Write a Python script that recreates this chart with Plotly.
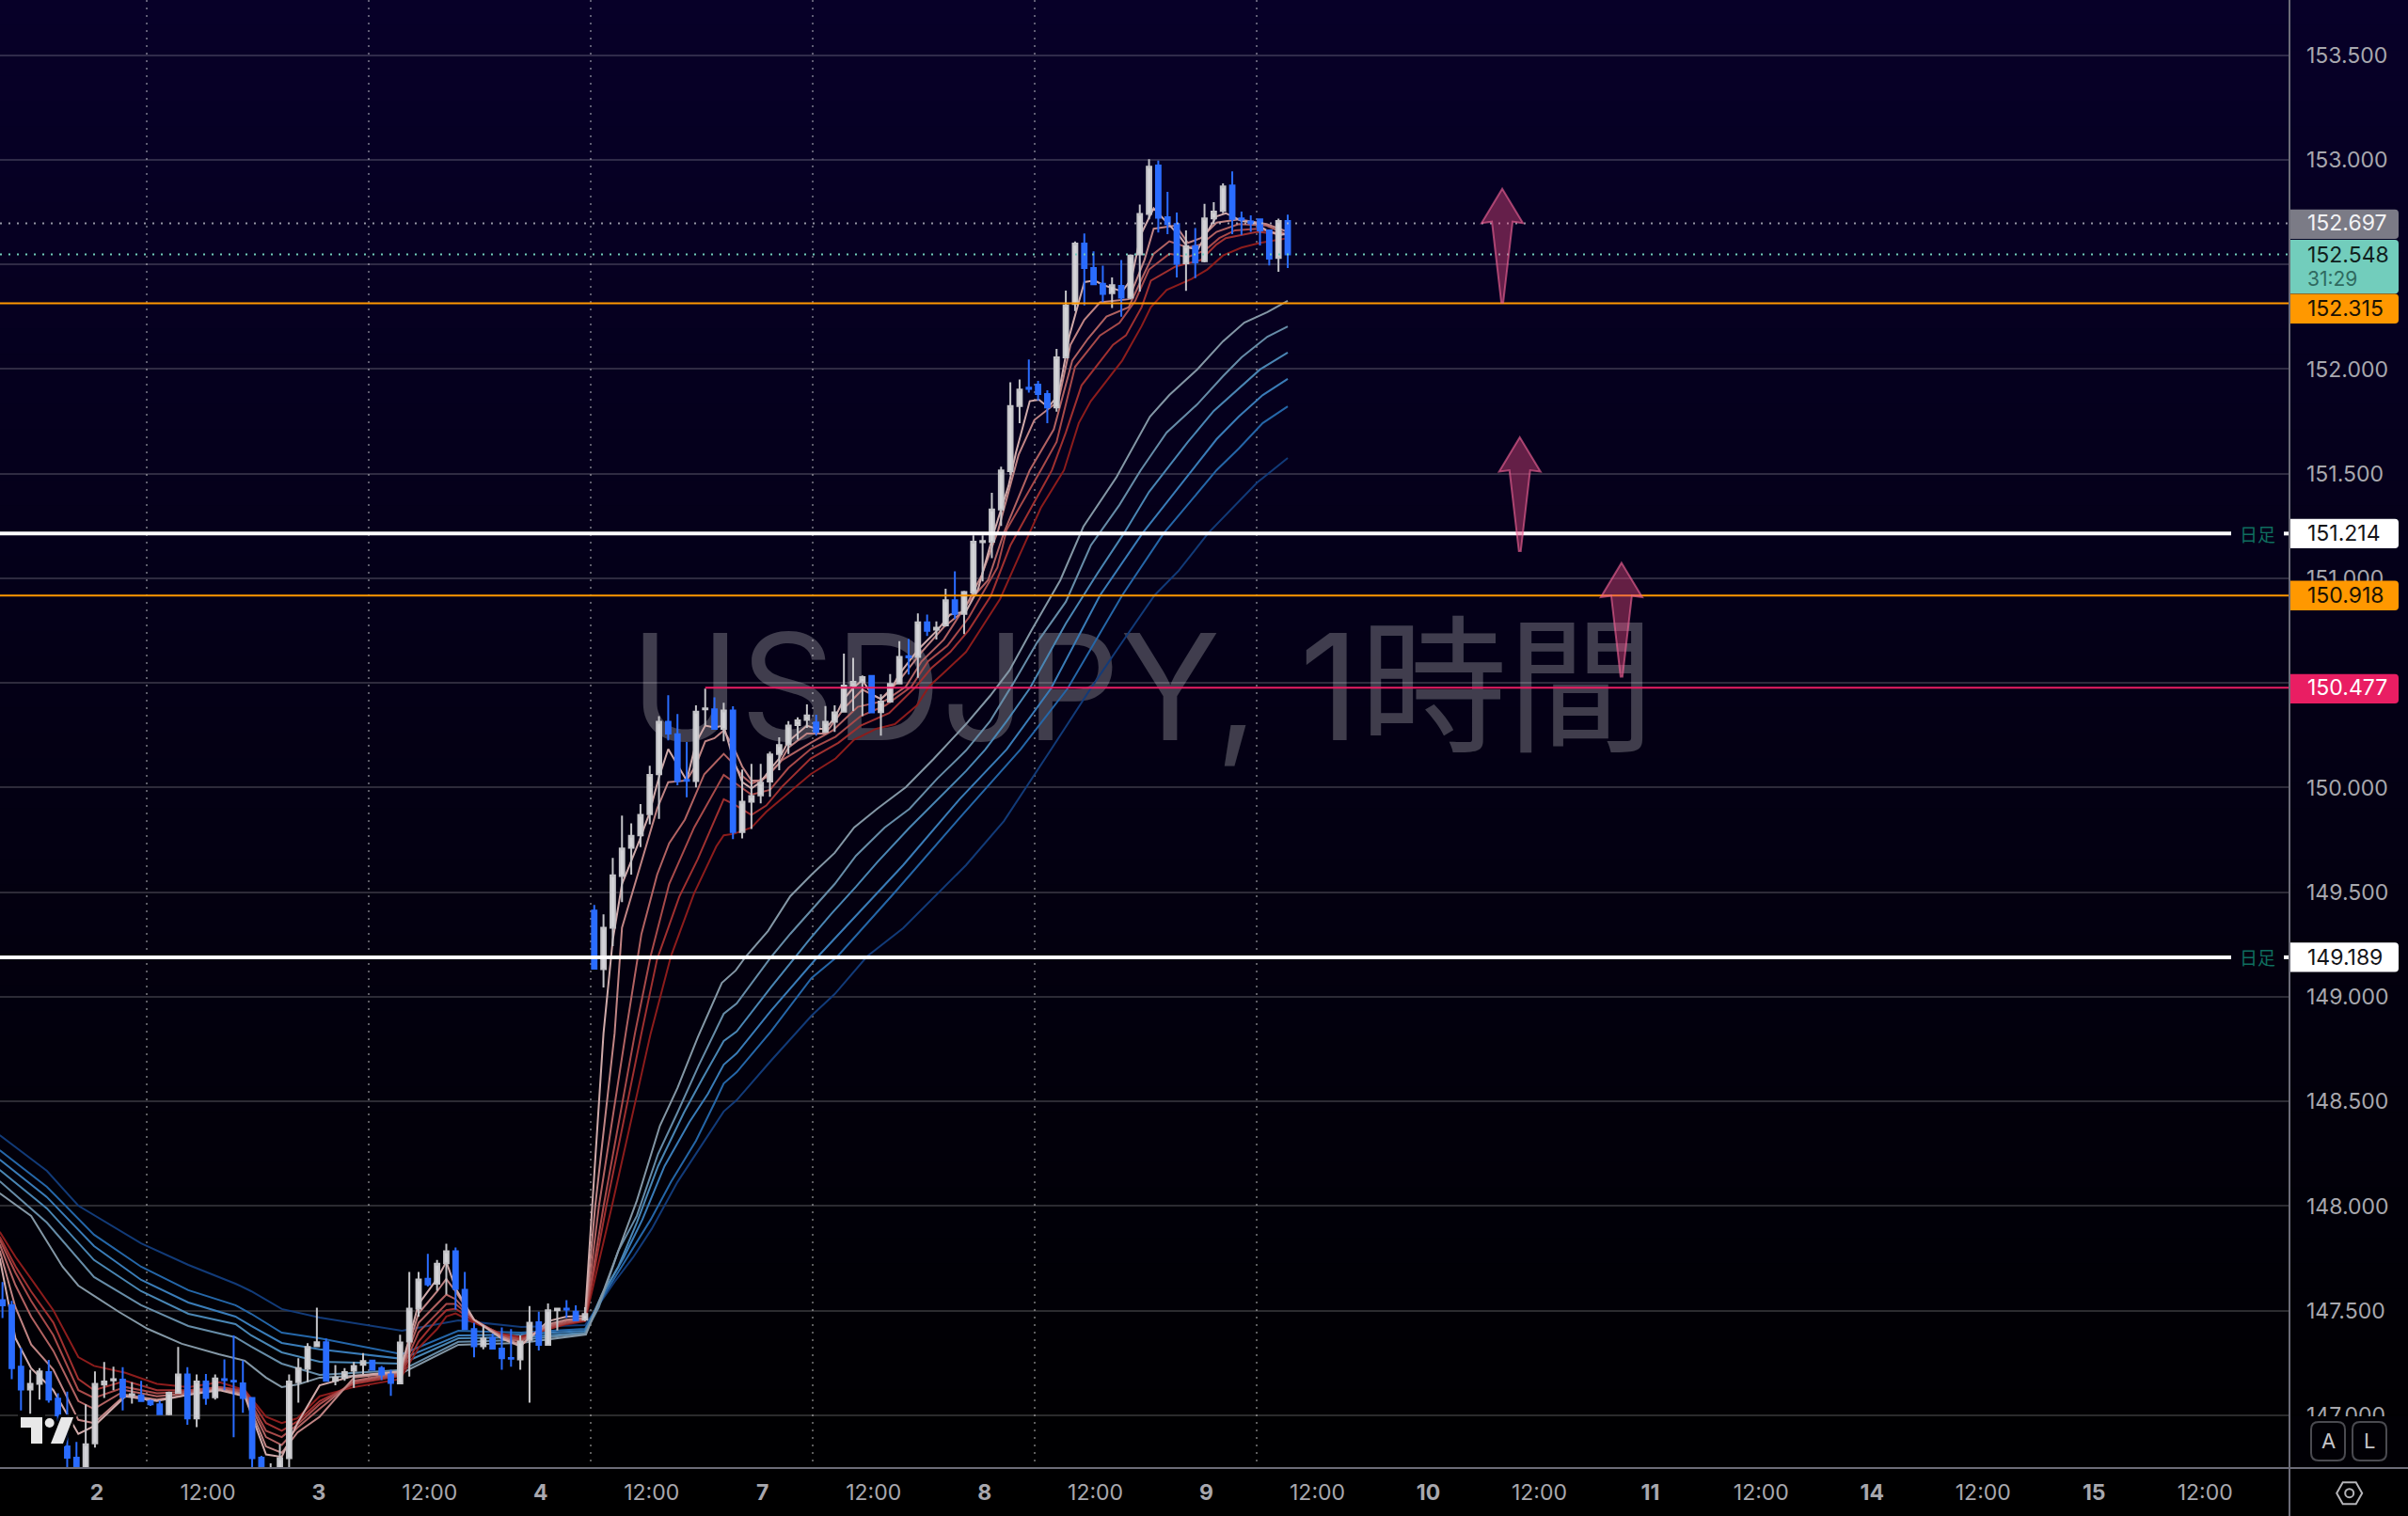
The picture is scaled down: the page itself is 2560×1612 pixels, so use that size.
import plotly.graph_objects as go

# ---------- data ----------
BAR_X = list(range(-10, 130))
OPEN = [147.550,147.525,147.232,147.123,147.150,147.206,147.080,146.851,146.798,146.700,
146.866,147.147,147.167,147.170,147.095,147.095,147.068,147.053,147.005,147.108,
147.195,146.985,147.161,147.086,147.173,147.165,147.153,147.083,146.798,146.660,
146.720,146.795,147.158,147.222,147.330,147.349,147.165,147.180,147.213,147.241,
147.262,147.225,147.195,147.153,147.352,147.510,147.652,147.629,147.727,147.784,
147.600,147.412,147.330,147.370,147.319,147.274,147.267,147.360,147.445,147.337,
147.502,147.510,147.495,147.457,
149.412,149.132,149.330,149.577,149.712,149.772,149.873,150.064,150.314,150.255,
150.037,150.031,150.374,150.374,150.281,150.368,149.787,149.932,149.963,150.029,
150.161,150.206,150.299,150.323,150.311,150.266,150.314,150.363,150.488,150.506,
150.533,150.360,150.411,150.498,150.628,150.624,150.790,150.755,150.775,150.895,
150.830,150.932,151.173,151.175,151.329,151.512,151.824,151.911,151.926,151.881,
151.817,152.056,152.311,152.600,152.483,152.408,152.363,152.398,152.341,152.548,
152.742,152.973,152.726,152.693,152.506,152.588,152.516,152.720,152.756,152.877,
152.720,152.705,152.716,152.663,152.531,152.708]
CLOSE = [147.525,147.225,147.123,147.150,147.210,147.075,147.000,146.798,146.700,146.861,
147.150,147.162,147.173,147.087,147.101,147.068,147.053,147.005,147.108,147.195,
146.985,147.161,147.083,147.176,147.168,147.161,147.083,146.795,146.700,146.720,
146.795,147.161,147.225,147.327,147.349,147.165,147.180,147.207,147.236,147.259,
147.218,147.195,147.155,147.348,147.510,147.649,147.626,147.724,147.784,147.604,
147.412,147.330,147.367,147.319,147.273,147.270,147.352,147.442,147.337,147.502,
147.510,147.505,147.454,147.484,
149.135,149.330,149.581,149.709,149.769,149.869,150.061,150.314,150.258,150.031,
150.032,150.363,150.378,150.281,150.368,149.787,149.932,149.959,150.023,150.158,
150.203,150.296,150.321,150.345,150.266,150.314,150.359,150.488,150.506,150.528,
150.359,150.411,150.495,150.624,150.622,150.790,150.749,150.764,150.895,150.830,
150.935,151.175,151.178,151.329,151.516,151.824,151.902,151.905,151.881,151.817,
152.056,152.304,152.600,152.483,152.405,152.360,152.401,152.341,152.543,152.742,
152.967,152.723,152.693,152.503,152.588,152.510,152.720,152.753,152.873,152.718,
152.714,152.697,152.663,152.528,152.708,152.548]
HIGH = [147.637,147.547,147.322,147.218,147.225,147.265,147.105,147.113,146.873,147.053,
147.210,147.255,147.232,147.230,147.158,147.165,147.075,147.071,147.113,147.327,
147.230,147.195,147.198,147.195,147.267,147.382,147.262,147.086,146.806,146.771,
146.861,147.195,147.273,147.345,147.514,147.367,147.240,147.225,147.255,147.297,
147.265,147.236,147.218,147.385,147.685,147.685,147.772,147.742,147.820,147.802,
147.685,147.442,147.430,147.390,147.420,147.412,147.382,147.522,147.495,147.535,
147.514,147.550,147.525,147.517,
149.439,149.394,149.664,149.866,149.829,149.921,150.104,150.341,150.441,150.351,
150.218,150.393,150.473,150.431,150.405,150.389,150.086,150.113,150.113,150.172,
150.240,150.318,150.336,150.398,150.348,150.390,150.393,150.640,150.620,150.536,
150.536,150.446,150.543,150.700,150.710,150.832,150.827,150.794,150.950,151.034,
150.940,151.205,151.205,151.409,151.534,151.937,151.951,152.046,151.944,151.899,
152.097,152.375,152.610,152.648,152.563,152.494,152.438,152.521,152.548,152.786,
153.003,152.997,152.847,152.748,152.663,152.674,152.790,152.798,152.888,152.945,
152.753,152.735,152.719,152.667,152.719,152.738]
LOW = [147.465,147.173,147.023,147.008,147.075,147.060,146.970,146.753,146.650,146.650,
146.846,147.083,147.120,147.023,147.056,147.065,147.045,147.002,147.000,147.105,
146.955,146.943,147.050,147.075,147.120,146.895,147.012,146.745,146.660,146.640,
146.680,146.745,147.060,147.158,147.327,147.161,147.143,147.165,147.131,147.195,
147.215,147.168,147.093,147.150,147.185,147.472,147.615,147.595,147.577,147.505,
147.409,147.277,147.315,147.315,147.218,147.232,147.218,147.060,147.310,147.333,
147.405,147.465,147.454,147.450,
149.132,149.045,149.243,149.453,149.584,149.716,149.824,149.850,150.226,150.011,
149.954,150.001,150.296,150.276,150.221,149.754,149.757,149.802,149.924,149.956,
150.083,150.161,150.229,150.285,150.248,150.266,150.266,150.363,150.366,150.341,
150.356,150.248,150.405,150.495,150.540,150.525,150.725,150.708,150.770,150.805,
150.733,150.914,150.985,151.097,151.250,151.494,151.742,151.887,151.851,151.742,
151.797,152.053,152.277,152.304,152.401,152.319,152.292,152.251,152.333,152.371,
152.716,152.653,152.645,152.438,152.374,152.435,152.510,152.693,152.745,152.645,
152.641,152.656,152.591,152.495,152.465,152.483]

# long moving averages (lightest to darkest)
L1_X = [-10.3,-6.9,-3.5,-1.8,-0.1,2.6,5.7,9.4,13.4,16.2,18.5,20.2,22,24.3,33.2,39.3,46.1,53.1,55.1,56.9,58.6,61.1,63,65.2,67.8,69.3,70.4,72.8,75.2,77.5,80,82.1,84.6,87.7,90.7,94.2,96.8,98.9,101.3,104.4,106.9,110.5,114.1,116.2,119.2,122,124.3,126.8,129]
L1_Y = [148.061,147.953,147.710,147.620,147.571,147.494,147.413,147.342,147.292,147.261,147.180,147.135,147.148,147.180,147.202,147.337,147.346,147.386,147.607,147.818,148.025,148.384,148.564,148.807,149.067,149.126,149.193,149.315,149.481,149.584,149.688,149.809,149.899,150.002,150.137,150.303,150.438,150.560,150.753,150.991,151.247,151.485,151.773,151.876,151.998,152.133,152.222,152.272,152.326]
L2_X = [-10.3,-5.2,-0.1,5,10.1,15.2,16.9,20.2,24.3,33.2,39.3,46.1,53,54.5,56.6,58.6,60.9,63,65.3,68,69.4,73.1,75.2,77.9,80,82.3,85.4,88.1,91.1,94.2,96.8,99.3,101.9,105,107.7,110.8,113.1,115.9,119.2,122,124,126.8,129]
L2_Y = [148.119,147.921,147.661,147.526,147.427,147.373,147.328,147.247,147.193,147.216,147.351,147.360,147.391,147.517,147.786,147.953,148.249,148.447,148.672,148.919,148.968,149.189,149.301,149.436,149.539,149.674,149.809,149.899,150.043,150.177,150.317,150.497,150.694,150.888,151.157,151.351,151.517,151.697,151.831,151.966,152.056,152.155,152.204]
L3_X = [-10.3,-5.2,-0.1,5,10.1,15.2,16.9,20.2,24.3,33.2,39.3,46.1,53,54.8,56.6,58.6,60.9,63.7,65.7,68,69.4,73.1,77.2,79.6,82.3,84.6,88.1,91.1,94.2,96.3,98.6,101.1,105,108.4,111.3,114,118.2,121,123.7,126,129]
L3_Y = [148.173,147.989,147.742,147.593,147.485,147.436,147.382,147.301,147.256,147.247,147.368,147.373,147.395,147.575,147.710,147.921,148.191,148.447,148.609,148.789,148.834,149.045,149.270,149.395,149.526,149.643,149.809,149.944,150.079,150.182,150.317,150.474,150.784,151.022,151.216,151.413,151.652,151.800,151.908,151.998,152.079]
L4_X = [-10.3,-5.2,-0.1,5,10.1,15.2,16.9,20.2,24.3,33.2,39.3,46.1,53,55.1,57.2,59.2,61.6,64.3,66.3,68,69.4,73.1,78.2,82.8,87.4,93.5,98.6,103.4,108.7,113.3,118.6,121.3,123.7,126.3,129]
L4_Y = [148.222,148.043,147.809,147.647,147.539,147.472,147.427,147.346,147.315,147.270,147.382,147.386,147.404,147.593,147.755,147.935,148.191,148.402,148.537,148.676,148.730,148.933,149.193,149.413,149.629,149.944,150.182,150.474,150.919,151.216,151.517,151.665,151.773,151.876,151.953]
L5_X = [-10.3,-5.2,-0.1,5,10.1,15.2,16.9,20.2,24.3,33.2,39.3,46.1,53,55.5,57.2,60.1,62.3,65,67,68,69.4,73.1,77.5,80.3,86.4,93.5,100.1,105.2,111.1,115.6,121.3,123.7,126.3,129]
L5_Y = [148.267,148.092,147.863,147.710,147.598,147.526,147.485,147.395,147.368,147.292,147.404,147.395,147.413,147.607,147.728,147.935,148.115,148.312,148.492,148.586,148.640,148.834,149.090,149.193,149.494,149.854,150.182,150.474,150.919,151.216,151.517,151.620,151.742,151.822]
L6_X = [-10.3,-5.2,-1.8,-0.1,5,10.1,15.2,16.9,20.2,24.3,33.2,39.3,46.1,53,56.2,58.2,60.2,63,65,68,69.4,73.1,77.5,80,83.5,87.4,94.2,98.3,103.4,107.7,111.5,114.6,117.2,120.4,125.7,129]
L6_Y = [148.339,148.168,148.002,147.957,147.822,147.719,147.629,147.593,147.508,147.467,147.404,147.454,147.422,147.431,147.638,147.755,147.890,148.115,148.249,148.452,148.506,148.694,148.910,149.013,149.193,149.328,149.629,149.840,150.182,150.474,150.721,150.919,151.036,151.216,151.458,151.575]

# short moving averages (lightest to darkest)
S1_X = [-10.3,-8.6,-6.9,-4.5,-1.8,-0.1,3.3,6.7,10.1,13.5,16.2,18.5,20.2,21.9,24.3,28,33,35,37,38,39,41,44,46,49,51,53,54,55,56,57,58.9,59.9,61,62,63,64,65,66,67,68,69,70,71,72,73,74,75,76,77,78,79,80,81,82,83,84,85,86,87,89.1,91.1,92.5,94.2,95.5,97.2,98.8,99.6,101.1,102.1,103.1,104.2,105.4,107,108.1,109.1,110.1,111.1,112.1,113.1,114.5,116,117.2,118.2,119.3,120.3,121.3,122.3,124,125.4,126.7,128.1,129]
S1_Y = [147.750,147.368,147.225,147.120,146.911,146.948,147.091,147.068,147.098,147.120,147.091,146.813,146.801,146.963,147.143,147.188,147.210,147.532,147.652,147.734,147.607,147.457,147.367,147.330,147.450,147.472,147.475,148.150,148.825,149.270,149.539,149.749,149.869,150.049,150.184,150.109,150.034,150.214,150.296,150.288,150.296,150.139,150.026,149.996,150.026,150.086,150.139,150.221,150.258,150.296,150.281,150.281,150.333,150.423,150.476,150.513,150.446,150.423,150.461,150.543,150.663,150.752,150.827,150.842,150.947,151.217,151.442,151.600,151.847,151.854,151.817,151.877,152.161,152.416,152.423,152.401,152.386,152.371,152.431,152.641,152.768,152.698,152.641,152.581,152.573,152.656,152.730,152.745,152.708,152.700,152.663,152.641,152.648]
S2_X = [-10.3,-8.6,-6.9,-4.5,-1.8,-0.1,3.3,6.7,10.1,13.5,16.2,18.5,20.2,21.9,24.3,28,33,35,37,38,39,41,44,46,49,51,53,54.1,56.2,57,58.7,60.8,62,64,65,66,67,68,69,70,71,72,73,74,75,77,79,81,83,85,87,89.4,91.8,93.9,95.9,97.7,99.9,101.6,104.2,105.5,107,108.7,111.8,113.5,114.5,116.9,118.2,119.6,121.3,123.7,126.7,129]
S2_Y = [147.787,147.517,147.338,147.218,146.978,146.963,147.098,147.075,147.098,147.125,147.098,146.851,146.821,146.918,146.993,147.180,147.206,147.487,147.592,147.652,147.592,147.457,147.375,147.337,147.435,147.457,147.465,147.998,148.825,149.330,149.584,149.899,150.026,150.034,150.109,150.221,150.236,150.273,150.199,150.101,150.034,150.034,150.071,150.116,150.191,150.258,150.258,150.378,150.468,150.423,150.513,150.648,150.767,150.842,151.015,151.232,151.592,151.757,151.847,152.116,152.236,152.319,152.334,152.521,152.671,152.686,152.603,152.626,152.700,152.716,152.693,152.656]
S3_X = [-10.3,-8.6,-6.9,-4.5,-1.8,-0.1,3.3,6.7,10.1,13.5,16.2,18.5,20.2,21.9,24.3,28,33,35,37,38,39,41,44,46,49,51,53,54.5,57.4,59.1,60.8,62.1,63.8,65.9,68,69,70,71,72.6,74.3,77.4,79.8,82.5,85.5,87.7,89.4,91.8,94.2,96.6,98.3,101.1,103.7,105.7,107.4,109.4,111.8,113.2,114.5,116.2,118.2,119.6,121.3,123.7,126.7,129]
S3_Y = [147.817,147.622,147.472,147.308,147.068,147.031,147.120,147.091,147.105,147.128,147.105,146.896,146.858,146.941,147.031,147.165,147.203,147.442,147.532,147.577,147.555,147.457,147.375,147.352,147.427,147.450,147.460,147.998,148.825,149.300,149.584,149.734,149.847,150.064,150.161,150.116,150.056,150.019,150.049,150.131,150.214,150.273,150.386,150.416,150.483,150.603,150.707,150.872,150.992,151.217,151.517,151.712,152.041,152.146,152.251,152.296,152.431,152.551,152.611,152.581,152.596,152.656,152.693,152.686,152.641]
S4_X = [-10.3,-8.6,-6.9,-4.5,-1.8,-0.1,3.3,6.7,10.1,13.5,16.2,18.5,20.2,21.9,24.3,28,33,35,37,38,39,41,44,46,49,51,53,55,58.4,60.1,62.1,64.8,68,69.1,71,73,75,77.4,80.1,82.8,85.5,88.3,90.1,92.2,94.5,97.6,98.6,102.3,104,106,108.7,110.8,112.5,114,116.2,118.2,120,121.6,123.3,125.7,129]
S4_Y = [147.839,147.682,147.547,147.383,147.120,147.083,147.135,147.105,147.113,147.135,147.113,146.926,146.896,146.956,147.053,147.158,147.195,147.397,147.487,147.532,147.532,147.457,147.382,147.360,147.420,147.442,147.457,147.998,148.825,149.195,149.539,149.809,150.061,150.026,149.966,149.989,150.094,150.184,150.243,150.341,150.393,150.483,150.603,150.678,150.812,151.052,151.232,151.517,151.652,152.011,152.161,152.221,152.326,152.476,152.551,152.536,152.566,152.626,152.663,152.671,152.641]
S5_X = [-10.3,-8.6,-6.9,-4.5,-1.8,-0.1,3.3,6.7,10.1,13.5,16.2,18.5,20.2,21.9,24.3,28,33,35,37,38,39,41,44,46,49,51,53,55.3,59.1,60.8,63.2,65.2,68,69.1,71,72.6,74.3,77.4,80.4,82.8,85.9,88.8,90.5,92.5,94.5,96.9,99,103.5,105,106.7,110.1,111.5,113.2,114.2,116.9,118.2,119.6,121.3,122.3,125.7,129]
S5_Y = [147.854,147.712,147.592,147.443,147.173,147.120,147.165,147.120,147.120,147.135,147.120,146.963,146.926,146.971,147.068,147.150,147.188,147.352,147.457,147.502,147.510,147.450,147.385,147.367,147.412,147.439,147.454,147.998,148.825,149.180,149.479,149.659,149.944,149.921,149.869,149.914,150.004,150.139,150.214,150.296,150.356,150.483,150.573,150.648,150.752,150.917,151.157,151.517,151.697,151.922,152.116,152.161,152.296,152.423,152.491,152.506,152.521,152.596,152.626,152.656,152.641]
S6_X = [-10.3,-8.6,-6.9,-4.5,-1.8,-0.1,3.3,6.7,10.1,13.5,16.2,18.5,20.2,21.9,24.3,28,33,35,37,38,39,41,44,46,49,51,53,55.9,60.1,62.3,64.8,67.2,68,69.1,71,72.6,75,77.4,80.1,82.1,84.5,86.5,88.9,90.2,92.2,94.2,95.5,97.9,100,102.3,104.8,106.4,107.7,111.1,113.2,114.2,115.9,118.6,120.3,122,124,126,129]
S6_Y = [147.877,147.757,147.652,147.502,147.278,147.236,147.203,147.150,147.135,147.158,147.120,146.993,146.963,146.986,147.091,147.135,147.173,147.322,147.412,147.472,147.487,147.442,147.390,147.375,147.412,147.435,147.450,147.998,148.825,149.195,149.495,149.719,149.772,149.779,149.809,149.884,149.974,150.064,150.139,150.229,150.281,150.303,150.393,150.483,150.565,150.648,150.737,150.902,151.112,151.337,151.517,151.742,151.847,152.041,152.206,152.296,152.378,152.431,152.476,152.543,152.581,152.603,152.626]

PRICE_TICKS = [147.0,147.5,148.0,148.5,149.0,149.5,150.0,150.5,151.0,151.5,152.0,152.5,153.0,153.5]
TIME_TICKS = [0,12,24,36,48,60,72,84,96,108,120,132,144,156,168,180,192,204,216,228]
TIME_LABELS = ["<b>2</b>","12:00","<b>3</b>","12:00","<b>4</b>","12:00","<b>7</b>","12:00","<b>8</b>","12:00",
               "<b>9</b>","12:00","<b>10</b>","12:00","<b>11</b>","12:00","<b>14</b>","12:00","<b>15</b>","12:00"]
SESSION_LINES = [5.6,29.6,53.6,77.6,101.6,125.6]
WHITE_LEVELS = [151.214,149.189]
ORANGE_LEVELS = [152.315,150.918]
PINK_LEVEL = 150.477
PINK_START = 66
PREV_CLOSE = 152.697
LAST_PRICE = 152.548
COUNTDOWN = "31:29"
ARROW_X = [152.2,154.1,165.1]
ARROW_TIP = [152.862,151.674,151.074]
WATERMARK = "USDJPY, 1時間"
WATERMARK_X = 113.3
WATERMARK_Y = 150.405
Y_RANGE = [146.748,153.764]
X_RANGE = [-10.27,237.34]

# ---------- layout helpers ----------
W, H = 2560, 1612
PW, PH = 2434, 1561
FONT = "Inter, 'Noto Sans CJK JP', sans-serif"
def px(x): return x / PW
def py(y): return 1 - y / PH

shapes = []
annotations = []

# background gradient
N = 60
for i in range(N):
    t = (i + 0.5) / N
    c = "rgb(%d,%d,%d)" % (round(7*(1-t)), 0, round(40*(1-t)))
    shapes.append(dict(type="rect", layer="below", xref="paper", yref="paper",
                       x0=0, x1=px(W), y0=py(H*i/N), y1=py(H*(i+1)/N + 1),
                       fillcolor=c, line_width=0))

def level_line(price, color, width, dash=None, x0=0.0, x1=1.0):
    shapes.append(dict(type="line", xref="paper", yref="y", x0=x0, x1=x1, y0=price, y1=price,
                       line=dict(color=color, width=width, dash=dash)))

def price_box(price, color, top, bottom, text, tcolor, yshift=0):
    r = 4
    w = 116
    path = (f"M 1,{top} L {w-r},{top} Q {w},{top} {w},{top-r} L {w},{bottom+r} "
            f"Q {w},{bottom} {w-r},{bottom} L 1,{bottom} Z")
    shapes.append(dict(type="path", xref="paper", yref="y", xsizemode="pixel", ysizemode="pixel",
                       xanchor=1, yanchor=price, path=path, fillcolor=color, line_width=0))
    annotations.append(dict(x=1, y=price, xref="paper", yref="y", text=text, showarrow=False,
                            xanchor="left", yanchor="middle", xshift=17, yshift=yshift,
                            font=dict(family=FONT, size=23, color=tcolor)))

level_line(PREV_CLOSE, "rgba(200,200,210,0.75)", 2, "2px,7px")
level_line(LAST_PRICE, "#72cdbc", 2, "2px,7px")
for p in ORANGE_LEVELS:
    level_line(p, "#ff9800", 2)
shapes.append(dict(type="line", xref="x", yref="y", x0=PINK_START, x1=X_RANGE[1], y0=PINK_LEVEL, y1=PINK_LEVEL,
                   line=dict(color="#e91e63", width=2)))
for p in WHITE_LEVELS:
    level_line(p, "#ffffff", 4, x1=px(2372))
    level_line(p, "#ffffff", 4, x0=px(2428))
    annotations.append(dict(x=px(2400), y=p, xref="paper", yref="y", text="日足", showarrow=False,
                            xanchor="center", yanchor="middle",
                            font=dict(family="'Noto Sans CJK JP'", size=19, color="#0f6e5f")))

ARROW_PATH = "M 0,0 L 22,-36.5 L 11,-35 L 1,-121 L -1,-121 L -11,-35 L -22,-36.5 Z"
for ax, ay in zip(ARROW_X, ARROW_TIP):
    shapes.append(dict(type="path", xref="x", yref="y", xsizemode="pixel", ysizemode="pixel",
                       xanchor=ax, yanchor=ay, path=ARROW_PATH,
                       fillcolor="rgba(233,75,130,0.42)",
                       line=dict(color="rgba(240,100,150,0.62)", width=2)))

# cover for the clipped lowest tick label
shapes.append(dict(type="rect", xref="paper", yref="paper", x0=px(2436), x1=px(W), y0=py(PH), y1=py(1506),
                   fillcolor="rgb(1,0,5)", line_width=0))

# axis frame
AXC = "#6c6c78"
shapes.append(dict(type="line", xref="paper", yref="paper", x0=1, x1=1, y0=py(0), y1=py(H), line=dict(color=AXC, width=2)))
shapes.append(dict(type="line", xref="paper", yref="paper", x0=0, x1=px(W), y0=py(PH), y1=py(PH), line=dict(color=AXC, width=2)))

# price tags
price_box(PREV_CLOSE, "#7b7b86", 14.7, -16.6, f"{PREV_CLOSE:.3f}", "#f2f2f4")
price_box(LAST_PRICE, "#72cdbc", 15.6, -41.7, f"{LAST_PRICE:.3f}", "#10201d")
annotations.append(dict(x=1, y=LAST_PRICE, xref="paper", yref="y", text=COUNTDOWN, showarrow=False,
                        xanchor="left", yanchor="middle", xshift=17, yshift=-26,
                        font=dict(family=FONT, size=21, color="#2f6a60")))
price_box(ORANGE_LEVELS[0], "#ff9800", 10, -21.6, f"{ORANGE_LEVELS[0]:.3f}", "#1a1204", yshift=-6)
price_box(WHITE_LEVELS[0], "#ffffff", 15.7, -15.6, f"{WHITE_LEVELS[0]:.3f}", "#141418")
price_box(ORANGE_LEVELS[1], "#ff9800", 15.8, -15.8, f"{ORANGE_LEVELS[1]:.3f}", "#1a1204")
price_box(PINK_LEVEL, "#e91e63", 14.7, -16.6, f"{PINK_LEVEL:.3f}", "#ffffff")
price_box(WHITE_LEVELS[1], "#ffffff", 15.7, -15.6, f"{WHITE_LEVELS[1]:.3f}", "#141418")

# TradingView logo
LOGO = [
    [(22,1507),(45,1507),(45,1535),(33,1535),(33,1518),(22,1518)],
    [(65,1507),(78,1507),(67,1535),(54,1535)],
]
def logo_path(poly):
    return "M " + " L ".join(f"{px(x)},{py(y)}" for x, y in poly) + " Z"
for poly in LOGO:
    shapes.append(dict(type="path", xref="paper", yref="paper", path=logo_path(poly),
                       fillcolor="rgba(0,0,0,0.85)", line=dict(color="rgba(0,0,0,0.85)", width=6)))
for poly in LOGO:
    shapes.append(dict(type="path", xref="paper", yref="paper", path=logo_path(poly),
                       fillcolor="#e8e8e8", line_width=0))
shapes.append(dict(type="circle", xref="paper", yref="paper", x0=px(47.7), x1=px(57.7), y0=py(1518), y1=py(1508),
                   fillcolor="#e8e8e8", line_width=0))

# A / L buttons
def rrect(x0, y0, x1, y1, r):
    pts = (f"M {px(x0+r)},{py(y0)} L {px(x1-r)},{py(y0)} Q {px(x1)},{py(y0)} {px(x1)},{py(y0+r)} "
           f"L {px(x1)},{py(y1-r)} Q {px(x1)},{py(y1)} {px(x1-r)},{py(y1)} L {px(x0+r)},{py(y1)} "
           f"Q {px(x0)},{py(y1)} {px(x0)},{py(y1-r)} L {px(x0)},{py(y0+r)} Q {px(x0)},{py(y0)} {px(x0+r)},{py(y0)} Z")
    return pts
for (x0, x1, ch) in [(2457,2493,"A"),(2501,2537,"L")]:
    shapes.append(dict(type="path", xref="paper", yref="paper", path=rrect(x0,1512,x1,1553,8),
                       fillcolor="rgba(0,0,0,0)", line=dict(color="#4a4a50", width=2)))
    annotations.append(dict(x=px((x0+x1)/2), y=py(1532), xref="paper", yref="paper", text=ch, showarrow=False,
                            xanchor="center", yanchor="middle",
                            font=dict(family=FONT, size=22, color="#c4c4c8")))

# settings hexagon
cx, cy = 2497.7, 1587.7
hex_pts = [(cx-13.5,cy),(cx-7,cy-11.5),(cx+7,cy-11.5),(cx+13.5,cy),(cx+7,cy+11.5),(cx-7,cy+11.5)]
shapes.append(dict(type="path", xref="paper", yref="paper",
                   path="M " + " L ".join(f"{px(x)},{py(y)}" for x, y in hex_pts) + " Z",
                   fillcolor="rgba(0,0,0,0)", line=dict(color="#b4b4b8", width=2)))
shapes.append(dict(type="circle", xref="paper", yref="paper", x0=px(cx-4.5), x1=px(cx+4.5), y0=py(cy+4.5), y1=py(cy-4.5),
                   fillcolor="rgba(0,0,0,0)", line=dict(color="#b4b4b8", width=2)))

# ---------- traces ----------
fig = go.Figure()
fig.add_trace(go.Scatter(x=[WATERMARK_X], y=[WATERMARK_Y], mode="text", text=[WATERMARK],
                         textposition="middle center", hoverinfo="skip", showlegend=False,
                         textfont=dict(family=FONT, size=157, color="rgba(255,255,255,0.24)")))
LONGS = [(L6_X,L6_Y,"#123a78"),(L5_X,L5_Y,"#2566a8"),(L4_X,L4_Y,"#3a7cb8"),
         (L3_X,L3_Y,"#4a86b4"),(L2_X,L2_Y,"#668ca8"),(L1_X,L1_Y,"#8497a6")]
SHORTS = [(S6_X,S6_Y,"#8c1c1c"),(S5_X,S5_Y,"#a03030"),(S4_X,S4_Y,"#a84a4a"),
          (S3_X,S3_Y,"#b26262"),(S2_X,S2_Y,"#c08484"),(S1_X,S1_Y,"#d0aaaa")]
for xs, ys, c in LONGS + SHORTS:
    fig.add_trace(go.Scatter(x=xs, y=ys, mode="lines", line=dict(color=c, width=2),
                             hoverinfo="skip", showlegend=False))
fig.add_trace(go.Candlestick(x=BAR_X, open=OPEN, high=HIGH, low=LOW, close=CLOSE,
                             xaxis="x2", yaxis="y2", showlegend=False, hoverinfo="skip", whiskerwidth=0,
                             increasing=dict(fillcolor="#d4d4d8", line=dict(color="#c4c4c8", width=2)),
                             decreasing=dict(fillcolor="#2a6cff", line=dict(color="#2a6cff", width=2))))

fig.update_layout(
    width=W, height=H, margin=dict(l=0, r=W-PW, t=0, b=H-PH, pad=0),
    paper_bgcolor="#000000", plot_bgcolor="rgba(0,0,0,0)",
    showlegend=False, boxgap=0.3, dragmode=False, hovermode=False,
    font=dict(family=FONT),
    shapes=shapes, annotations=annotations,
    xaxis=dict(range=X_RANGE, tickmode="array", tickvals=TIME_TICKS, ticktext=TIME_LABELS,
               showgrid=False, zeroline=False, showline=False, ticks="", ticklabelstandoff=10,
               ticklabelshift=2,
               tickfont=dict(family=FONT, size=23, color="#a8a8ae"),
               rangeslider=dict(visible=False),
               minor=dict(tickmode="array", tickvals=SESSION_LINES, showgrid=True, griddash="2px,6px",
                          gridcolor="rgba(255,255,255,0.36)", gridwidth=2, ticks="")),
    yaxis=dict(range=Y_RANGE, side="right", tickmode="array", tickvals=PRICE_TICKS,
               ticktext=[f"{v:.3f}" for v in PRICE_TICKS],
               showgrid=True, gridcolor="rgba(255,255,255,0.17)", gridwidth=2,
               zeroline=False, showline=False, ticks="", ticklabelstandoff=17,
               tickfont=dict(family=FONT, size=23, color="#a8a8ae")),
    xaxis2=dict(range=X_RANGE, overlaying="x", visible=False, rangeslider=dict(visible=False)),
    yaxis2=dict(range=Y_RANGE, overlaying="y", side="right", visible=False),
)

fig.write_html("out.html", config={"displayModeBar": False},
               post_script="document.body.style.margin='0';document.body.style.background='#000';")
